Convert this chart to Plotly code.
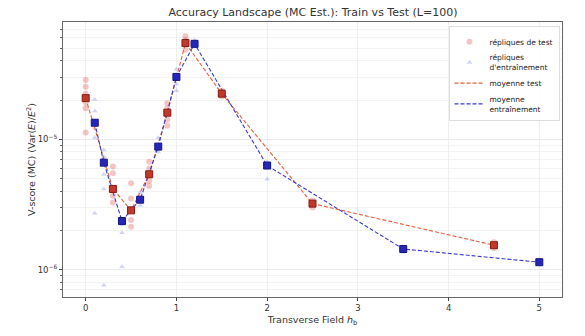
import plotly.graph_objects as go

# Mean V-score per transverse field value
test_h = [0.0, 0.3, 0.5, 0.7, 0.9, 1.1, 1.5, 2.5, 4.5]
test_mean = [2.07e-5, 4.16e-6, 2.85e-6, 5.39e-6, 1.60e-5, 5.48e-5, 2.24e-5, 3.21e-6, 1.54e-6]

train_h = [0.1, 0.2, 0.4, 0.6, 0.8, 1.0, 1.2, 2.0, 3.5, 5.0]
train_mean = [1.34e-5, 6.62e-6, 2.36e-6, 3.44e-6, 8.79e-6, 3.01e-5, 5.40e-5, 6.29e-6, 1.44e-6, 1.14e-6]

# Individual replicate runs
test_rep_h = [0, 0, 0, 0, 0, 0,
              0.3, 0.3, 0.3, 0.3,
              0.5, 0.5, 0.5, 0.5,
              0.7, 0.7, 0.7, 0.7,
              0.9, 0.9, 0.9, 0.9,
              1.1, 1.1, 1.1,
              1.5, 1.5,
              2.5, 2.5,
              4.5, 4.5]
test_rep_v = [2.85e-5, 2.53e-5, 2.24e-5, 1.92e-5, 1.73e-5, 1.13e-5,
              6.18e-6, 5.48e-6, 3.69e-6, 3.27e-6,
              4.61e-6, 3.51e-6, 2.40e-6, 2.13e-6,
              6.73e-6, 5.97e-6, 4.78e-6, 4.38e-6,
              1.89e-5, 1.73e-5, 1.41e-5, 1.27e-5,
              6.18e-5, 5.77e-5, 4.87e-5,
              2.36e-5, 2.13e-5,
              3.39e-6, 3.00e-6,
              1.62e-6, 1.46e-6]

train_rep_h = [0.1, 0.1, 0.1, 0.1, 0.1,
               0.2, 0.2, 0.2, 0.2, 0.2,
               0.4, 0.4, 0.4,
               0.6, 0.6,
               0.8, 0.8,
               1.0, 1.0, 1.0,
               1.2, 1.2,
               2.0, 2.0,
               3.5, 3.5,
               5.0, 5.0]
train_rep_v = [2.02e-5, 1.65e-5, 1.21e-5, 1.03e-5, 2.71e-6,
               8.28e-6, 7.34e-6, 5.38e-6, 4.16e-6, 7.6e-7,
               2.21e-6, 1.92e-6, 1.05e-6,
               3.89e-6, 3.11e-6,
               1.03e-5, 8.0e-6,
               3.44e-5, 2.66e-5, 2.36e-5,
               5.77e-5, 5.12e-5,
               6.73e-6, 4.94e-6,
               1.49e-6, 1.36e-6,
               1.19e-6, 1.11e-6]

y_tickvals = [1e-6, 1e-5]
y_ticktext = ["10<sup>\u22126</sup>", "10<sup>\u22125</sup>"]
x_tickvals = [0, 1, 2, 3, 4, 5]

minor_vals = [m * 10.0 ** e for e in (-7, -6, -5) for m in range(2, 10)]

fig = go.Figure()

fig.add_trace(go.Scatter(
    x=test_rep_h, y=test_rep_v, mode="markers", name="répliques de test",
    marker=dict(symbol="circle", size=6, color="rgba(220,80,80,0.33)", line=dict(width=0)),
))
fig.add_trace(go.Scatter(
    x=train_rep_h, y=train_rep_v, mode="markers", name="répliques<br>d'entraînement",
    marker=dict(symbol="triangle-up", size=5, color="rgba(110,130,220,0.33)", line=dict(width=0)),
))
fig.add_trace(go.Scatter(
    x=test_h, y=test_mean, mode="lines", name="moyenne test",
    line=dict(color="#e2603a", width=1.1, dash="4px,2px"),
))
fig.add_trace(go.Scatter(
    x=train_h, y=train_mean, mode="lines", name="moyenne<br>entraînement",
    line=dict(color="#3a3ad0", width=1.1, dash="4px,2px"),
))
fig.add_trace(go.Scatter(
    x=test_h, y=test_mean, mode="markers", showlegend=False,
    marker=dict(symbol="square", size=7, color="#c0392b", line=dict(color="#8b1a10", width=1)),
))
fig.add_trace(go.Scatter(
    x=train_h, y=train_mean, mode="markers", showlegend=False,
    marker=dict(symbol="square", size=7, color="#2626b8", line=dict(color="#14148a", width=1)),
))

axis_font = dict(family="DejaVu Sans", size=8.5, color="#333333")

fig.update_layout(
    width=585, height=336,
    margin=dict(l=63, r=23, t=22, b=32),
    paper_bgcolor="white", plot_bgcolor="white",
    font=dict(family="DejaVu Sans", size=9, color="#222222"),
    title=dict(text="Accuracy Landscape (MC Est.): Train vs Test (L=100)",
               x=0.535, xanchor="center", y=0.965, yanchor="middle",
               font=dict(family="DejaVu Sans", size=11, color="#333333")),
    showlegend=True,
    legend=dict(x=0.995, y=0.985, xanchor="right", yanchor="top",
                bgcolor="rgba(255,255,255,0.85)", bordercolor="#dddddd", borderwidth=1,
                font=dict(family="DejaVu Sans", size=7.5, color="#222222"),
                itemwidth=30, tracegroupgap=0),
    xaxis=dict(
        range=[-0.25, 5.25], tickvals=x_tickvals, ticks="outside", ticklen=3,
        tickfont=axis_font, showline=True, linecolor="#666666", mirror=True,
        showgrid=True, gridcolor="#efefef", gridwidth=1, zeroline=False,
        title=dict(text="Transverse Field <i>h</i><sub>b</sub>", font=dict(size=9.5, color="#333333"), standoff=4),
    ),
    yaxis=dict(
        type="log", range=[-6.21, -4.10], tickvals=y_tickvals, ticktext=y_ticktext,
        ticks="outside", ticklen=3, tickfont=axis_font,
        showline=True, linecolor="#666666", mirror=True,
        showgrid=True, gridcolor="#eaeaea", gridwidth=1, zeroline=False,
        minor=dict(tickmode="array", tickvals=minor_vals, ticks="outside", ticklen=2,
                   tickcolor="#666666", showgrid=True, gridcolor="#f3f3f3"),
        title=dict(text="V-score (MC) (Var(<i>E</i>)/<i>E</i><sup>2</sup>)",
                   font=dict(size=9.5, color="#333333"), standoff=0),
    ),
)

fig.write_html("out.html")
